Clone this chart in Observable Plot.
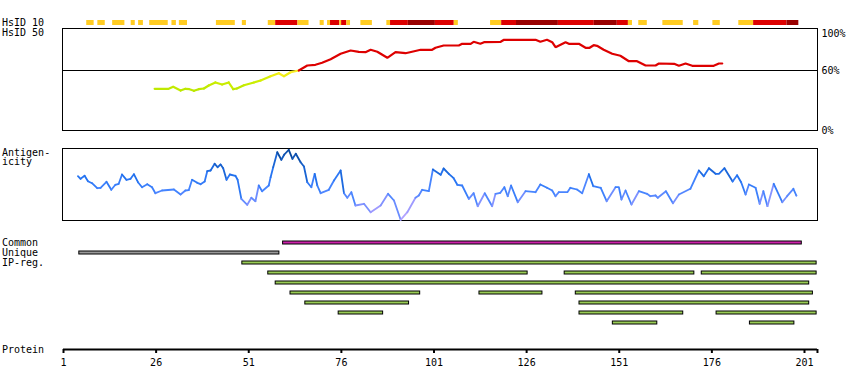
<!DOCTYPE html>
<html>
<head>
<meta charset="utf-8">
<script src="https://cdn.jsdelivr.net/npm/d3@7"></script>
<script src="https://cdn.jsdelivr.net/npm/@observablehq/plot@0.6"></script>
<style>
  body { margin: 0; background: #fff; }
  #chart { position: relative; width: 850px; height: 390px; overflow: hidden; background: #fff; }
  #chart > svg { position: absolute; left: 0; }
</style>
</head>
<body>
<div id="chart"></div>
<script>
// ---------------- data ----------------
const tickValues = [1, 26, 51, 76, 101, 126, 151, 176, 201];
const proteinLength = 204;
const identityTicks = [0, 60, 100];

// HsID 10 strip: segment start, end (residues), level (1 = gold, 2 = red, 3 = dark red)
const hsid10Start = [7, 10, 14, 19, 21, 24, 30, 32, 42, 49, 56, 58, 64, 70, 72, 72.8, 75.3, 75.8, 77.2, 81, 88, 89, 93.8, 101.1, 106.2, 116, 119, 123, 134.3, 144, 150.2, 153.2, 156, 162.5, 170.8, 176, 183, 187, 196];
const hsid10End   = [9, 12, 17.3, 20.1, 22.3, 29, 31.2, 34.2, 47.1, 50.1, 58, 64, 67, 71.1, 72.8, 75.3, 75.8, 77.2, 78.2, 84.1, 89, 93.8, 101.1, 106.2, 107.3, 119, 123, 134.3, 144, 150.2, 153.2, 154.3, 158.3, 168, 172.2, 178, 187, 196, 199.2];
const hsid10Level = [1, 1, 1, 1, 1, 1, 1, 1, 1, 1, 1, 2, 1, 1, 1, 2, 1, 2, 1, 1, 1, 2, 3, 2, 1, 1, 2, 3, 2, 3, 2, 1, 1, 1, 1, 1, 1, 2, 3];

// HsID 50 identity (%)
const hsid50Residue = [25.6, 29.4, 30.6, 32.6, 33.9, 35, 36.2, 37.5, 38.9, 40.2, 42, 43.8, 45.6, 46.8, 47.8, 49.7, 52.4, 54.2, 56.9, 59.1, 60.5, 62.3, 64.5, 66.8, 69, 70.8, 73.1, 75.8, 78.5, 80.7, 82.5, 83.9, 85.7, 88.4, 90.6, 93.3, 94.5, 97.4, 100.5, 101.4, 103.6, 107.7, 108.6, 110.9, 111.7, 113.5, 114.5, 119, 119.9, 128.4, 129.7, 131.5, 132.9, 133.8, 136.5, 137.4, 140.1, 141.9, 143, 144.1, 145, 146.8, 149.1, 151.3, 153.6, 155.8, 158.1, 160.8, 161.7, 165.8, 167.1, 168.9, 170.7, 176.5, 177.9, 178.8];
const hsid50Value   = [41.7, 41.7, 43.7, 40, 41.7, 41.3, 39.7, 41.3, 42, 45, 48, 46, 48, 41.3, 42, 45.3, 48, 50, 54.3, 57.3, 54.3, 58.3, 60, 65, 65.7, 67.7, 71.3, 76.7, 80, 78.7, 78.3, 80.7, 78.7, 72.7, 78.3, 77.3, 78.3, 80.7, 80.7, 82.7, 85, 85, 86.7, 86.7, 88.7, 86.7, 88.3, 88.7, 90.7, 90.7, 88.7, 90.7, 88.3, 83.3, 88.3, 86.7, 86.7, 82.7, 82.7, 85.3, 84.7, 80.7, 76.7, 74.7, 69.3, 69.3, 65, 65, 67, 66.7, 64.7, 67, 64.7, 64.7, 67, 67];

// Antigenicity (relative units)
const antigenResidue = [4.9, 5.6, 6.7, 7.6, 8.7, 10.1, 11, 12.6, 13.9, 15, 15.9, 16.8, 18, 19.1, 20, 21.1, 22.2, 23.6, 24.9, 25.8, 27.6, 30.8, 32.6, 33.9, 34.8, 35.7, 37.1, 38, 39.1, 39.8, 40.7, 41.8, 42.6, 43.4, 44.1, 45, 45.9, 47.4, 48, 49, 50.6, 51.7, 52.8, 53.7, 54.6, 56.4, 56.9, 57.6, 58.7, 59.8, 60.6, 61.8, 62.8, 63.7, 65, 65.9, 66.8, 67.9, 68.8, 69.5, 70.4, 72.6, 74, 75.8, 76.7, 77.6, 78.7, 79.8, 82.1, 83.9, 86.6, 88.6, 90.2, 92, 93.8, 96, 96.9, 97.8, 99.6, 100.7, 102.8, 103.6, 105, 106.3, 107.3, 108.6, 110.4, 111.7, 112.8, 114.7, 116.7, 117.6, 118.9, 120, 120.9, 121.8, 123.6, 125.7, 128.4, 129.7, 131.5, 132.9, 133.8, 134.7, 137, 137.8, 139.6, 141, 142.8, 144, 146, 147.6, 150, 150.9, 151.6, 152.7, 154.3, 156.3, 158.5, 159.4, 160.8, 161.4, 163.6, 165.5, 167.1, 170.2, 172.5, 173.8, 175.2, 177, 177.9, 179.4, 181.6, 182.8, 183.9, 185.1, 186, 187.8, 188.9, 189.9, 191, 192.7, 195, 196.3, 198, 198.8];
const antigenValue   = [44.3, 41.7, 44.7, 39.3, 37.3, 32.3, 32.7, 38.7, 30.7, 35.7, 36.7, 46, 40.7, 41.7, 46.3, 38.3, 33.3, 36.3, 33.3, 27.3, 30, 31, 26, 30, 30.3, 40.7, 37.7, 36.3, 39, 49.3, 50, 56.7, 53.3, 56, 52.3, 40.7, 46, 44.7, 40.7, 21.7, 15.7, 22.7, 19.3, 35, 29.3, 35, 43.3, 53.3, 68.3, 60.7, 66, 70.7, 61.7, 66.7, 58.3, 54, 38.3, 33.3, 46.7, 35, 27.3, 30.7, 40, 50, 27.3, 22.7, 28.3, 15, 16.7, 8.3, 15, 26.7, 20, 0.7, 8.3, 22.7, 25, 30.7, 29.3, 51, 45.7, 52, 46.7, 42.3, 35.7, 35, 21.7, 27.3, 14.3, 27.3, 14.3, 26.7, 27.7, 33.3, 24.3, 35, 18.3, 29.3, 28.3, 36, 32.7, 30, 24.3, 28.3, 28.3, 32.7, 31, 27.3, 46.3, 34.3, 32.7, 19.3, 33.3, 33.3, 21, 30, 16, 29.3, 26.7, 24.3, 25, 22.7, 29.3, 17.3, 26, 31.7, 50, 44.3, 52.3, 46.7, 46.7, 52.3, 39, 45.3, 38.3, 26, 36, 32.7, 16.7, 29.3, 14.3, 36.7, 18.3, 24.3, 31.7, 25];

// Regions
const rowNames = ["Common", "Unique", "IP1", "IP2", "IP3", "IP4", "IP5", "IP6", "IP7"];
const regionRow   = ["Common", "Unique", "IP1", "IP2", "IP2", "IP2", "IP3", "IP4", "IP4", "IP4", "IP5", "IP5", "IP6", "IP6", "IP6", "IP7", "IP7"];
const regionStart = [60, 5, 49, 56, 136, 173, 58, 62, 113, 139, 66, 140, 75, 140, 177, 149, 186];
const regionEnd   = [200, 59, 204, 126, 171, 204, 202, 97, 130, 203, 94, 202, 87, 168, 204, 161, 198];
const regionKind  = ["common", "unique", "ip", "ip", "ip", "ip", "ip", "ip", "ip", "ip", "ip", "ip", "ip", "ip", "ip", "ip", "ip"];

// ---------------- build tables ----------------
const hsid10 = hsid10Start.map((s, i) => ({start: s, end: hsid10End[i], level: hsid10Level[i]}));
const hsid50 = hsid50Residue.map((r, i) => ({r, v: hsid50Value[i]}));
const antigen = antigenResidue.map((r, i) => ({r, v: antigenValue[i]}));
const regions = regionRow.map((row, i) => ({row, start: regionStart[i], end: regionEnd[i], kind: regionKind[i]}));

const FONT = "DejaVu Sans Mono, monospace";
const W = 850;
const xScale = {domain: [1, 201], range: [63, 804], axis: null};
const common = {width: W, marginLeft: 62, marginRight: 33, style: {fontFamily: FONT, fontSize: "10px", background: "transparent", overflow: "visible"}};

const chart = document.getElementById("chart");
function place(svg, top) { svg.style.top = top + "px"; chart.appendChild(svg); }

// HsID 10 strip
place(Plot.plot({
  ...common, height: 5, marginTop: 0, marginBottom: 0,
  x: xScale,
  color: {type: "ordinal", domain: [1, 2, 3], range: ["#ffcc22", "#dd0000", "#990000"]},
  marks: [
    Plot.barX(hsid10, {x1: "start", x2: "end", fill: "level", dx: 1})
  ]
}), 20);

// HsID 50 panel
const pct = d => d + "%";
place(Plot.plot({
  ...common, height: 136, marginTop: 28, marginBottom: 6,
  x: xScale,
  y: {domain: [0, 102], axis: null},
  color: {type: "linear", domain: [38, 48, 55, 59.9, 60, 100], range: ["#b8e600", "#ccee00", "#eeee11", "#ffee33", "#dd0000", "#dd0000"], interpolate: "rgb"},
  marks: [
    Plot.frame({stroke: "#000"}),
    Plot.ruleY([60], {stroke: "#000"}),
    Plot.line(hsid50, {x: "r", y: "v", stroke: "v", z: null, strokeWidth: 2.2, strokeLinejoin: "miter"}),
    Plot.text(identityTicks.filter(d => d < 100), {x: () => 204.5, y: d => d, text: pct, textAnchor: "start", dx: 4, fill: "#000"}),
    Plot.text(identityTicks.filter(d => d === 100), {x: () => 204.5, y: d => d, text: pct, textAnchor: "start", dx: 4, dy: 3, fill: "#000"})
  ]
}), 0);

// Antigenicity panel
place(Plot.plot({
  ...common, height: 85, marginTop: 8, marginBottom: 5,
  x: xScale,
  y: {domain: [0, 72], axis: null},
  color: {type: "linear", domain: [0, 10, 20, 30, 45, 70], range: ["#b4a4ff", "#9a98ff", "#6a8cff", "#4484ff", "#2272f0", "#0a4aa0"], interpolate: "rgb"},
  marks: [
    Plot.frame({stroke: "#000"}),
    Plot.line(antigen, {x: "r", y: "v", stroke: "v", z: null, strokeWidth: 1.8})
  ]
}), 140);

// Regions
place(Plot.plot({
  ...common, height: 100, marginTop: 0, marginBottom: 0,
  x: xScale,
  y: {type: "band", domain: rowNames, range: [7.3, 97.3], paddingInner: 0.7, paddingOuter: 0.35, axis: null},
  color: {type: "ordinal", domain: ["common", "unique", "ip"], range: ["#cc22aa", "#999999", "#99cc55"]},
  marks: [
    Plot.barX(regions, {x1: "start", x2: "end", y: "row", fill: "kind", stroke: "#000", strokeWidth: 1, dx: 1})
  ]
}), 230);

// Protein axis
place(Plot.plot({
  ...common, height: 30, marginTop: 8, marginBottom: 21,
  x: xScale,
  y: {domain: [0, 1], axis: null},
  marks: [
    Plot.ruleY([0], {x1: 1, x2: proteinLength + 0.5, stroke: "#000", strokeWidth: 2}),
    Plot.axisX({anchor: "bottom", label: null, ticks: [...tickValues, proteinLength + 0.5], tickFormat: d => tickValues.includes(d) ? String(d) : "", tickSize: 4, tickPadding: 5, stroke: "#000", strokeWidth: 2, fill: "#000"})
  ]
}), 340);

// Left-hand row labels
const labels = [["HsID 10", 25.5], ["HsID 50", 36], ["Antigen-", 155.5], ["icity", 165], ["Common", 246], ["Unique", 256], ["IP-reg.", 266], ["Protein", 353]];
const overlay = d3.select(chart).append("svg").attr("width", 60).attr("height", 390).style("top", "0px");
overlay.selectAll("text").data(labels).join("text")
  .attr("x", 2).attr("y", d => d[1])
  .attr("font-family", FONT).attr("font-size", 10).attr("fill", "#000")
  .text(d => d[0]);
</script>
</body>
</html>
